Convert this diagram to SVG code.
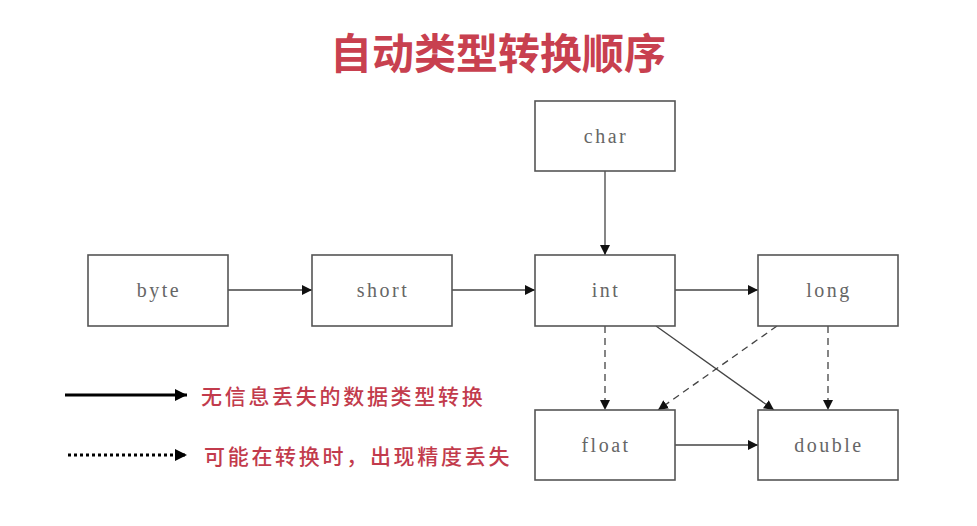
<svg xmlns="http://www.w3.org/2000/svg" width="977" height="526" viewBox="0 0 977 526">
<style>
.box{fill:#fff;stroke:#555;stroke-width:1.6}
.lbl{font-family:"Liberation Serif","DejaVu Serif",serif;font-size:20px;fill:#666;text-anchor:middle;dominant-baseline:central;letter-spacing:2.5px}
.ln{stroke:#444;stroke-width:1.3;fill:none}
.dash{stroke-dasharray:7,5}
.leg{font-family:"Noto Sans CJK SC",sans-serif;font-size:21px;font-weight:500;fill:#c23b4c;dominant-baseline:central;letter-spacing:2.7px}
</style>
<defs>
<marker id="ah" viewBox="0 0 10 10" refX="10" refY="5" markerWidth="10" markerHeight="10" markerUnits="userSpaceOnUse" orient="auto"><path d="M0,0 L10,5 L0,10 z" fill="#111"/></marker>
<marker id="ah2" viewBox="0 0 10 10" refX="10" refY="5" markerWidth="12" markerHeight="12" markerUnits="userSpaceOnUse" orient="auto"><path d="M0,0 L10,5 L0,10 z" fill="#000"/></marker>
</defs>
<rect width="977" height="526" fill="#fff"/>
<text x="498" y="50" font-family="'Noto Sans CJK SC',sans-serif" font-size="42" font-weight="bold" fill="#c8404f" text-anchor="middle" dominant-baseline="central">自动类型转换顺序</text>
<g id="connectors">
<line class="ln" x1="605" y1="171" x2="605" y2="255" marker-end="url(#ah)"/>
<line class="ln" x1="228" y1="290" x2="312" y2="290" marker-end="url(#ah)"/>
<line class="ln" x1="452" y1="290" x2="535" y2="290" marker-end="url(#ah)"/>
<line class="ln" x1="675" y1="290" x2="758" y2="290" marker-end="url(#ah)"/>
<line class="ln" x1="675" y1="445" x2="758" y2="445" marker-end="url(#ah)"/>
<line class="ln dash" x1="605" y1="326" x2="605" y2="410" marker-end="url(#ah)"/>
<line class="ln dash" x1="828" y1="326" x2="828" y2="410" marker-end="url(#ah)"/>
<line class="ln" x1="656" y1="326" x2="774" y2="410" marker-end="url(#ah)"/>
<line class="ln dash" x1="777" y1="326" x2="658" y2="410" marker-end="url(#ah)"/>
</g>
<g id="char"><rect class="box" x="535" y="101" width="140" height="70"/><text class="lbl" x="606" y="136">char</text></g>
<g id="byte"><rect class="box" x="88" y="255" width="140" height="71"/><text class="lbl" x="159" y="290">byte</text></g>
<g id="short"><rect class="box" x="312" y="255" width="140" height="71"/><text class="lbl" x="383" y="290">short</text></g>
<g id="int"><rect class="box" x="535" y="255" width="140" height="71"/><text class="lbl" x="606" y="290">int</text></g>
<g id="long"><rect class="box" x="758" y="255" width="140" height="71"/><text class="lbl" x="829" y="290">long</text></g>
<g id="float"><rect class="box" x="535" y="410" width="140" height="70"/><text class="lbl" x="606" y="445">float</text></g>
<g id="double"><rect class="box" x="758" y="410" width="140" height="70"/><text class="lbl" x="829" y="445">double</text></g>
<g id="legend">
<line x1="65" y1="395" x2="187" y2="395" stroke="#000" stroke-width="3" marker-end="url(#ah2)"/>
<text class="leg" x="201" y="395">无信息丢失的数据类型转换</text>
<line x1="68" y1="455" x2="187" y2="455" stroke="#000" stroke-width="3" stroke-dasharray="3,3" marker-end="url(#ah2)"/>
<text class="leg" x="204" y="455">可能在转换时，出现精度丢失</text>
</g>
</svg>
